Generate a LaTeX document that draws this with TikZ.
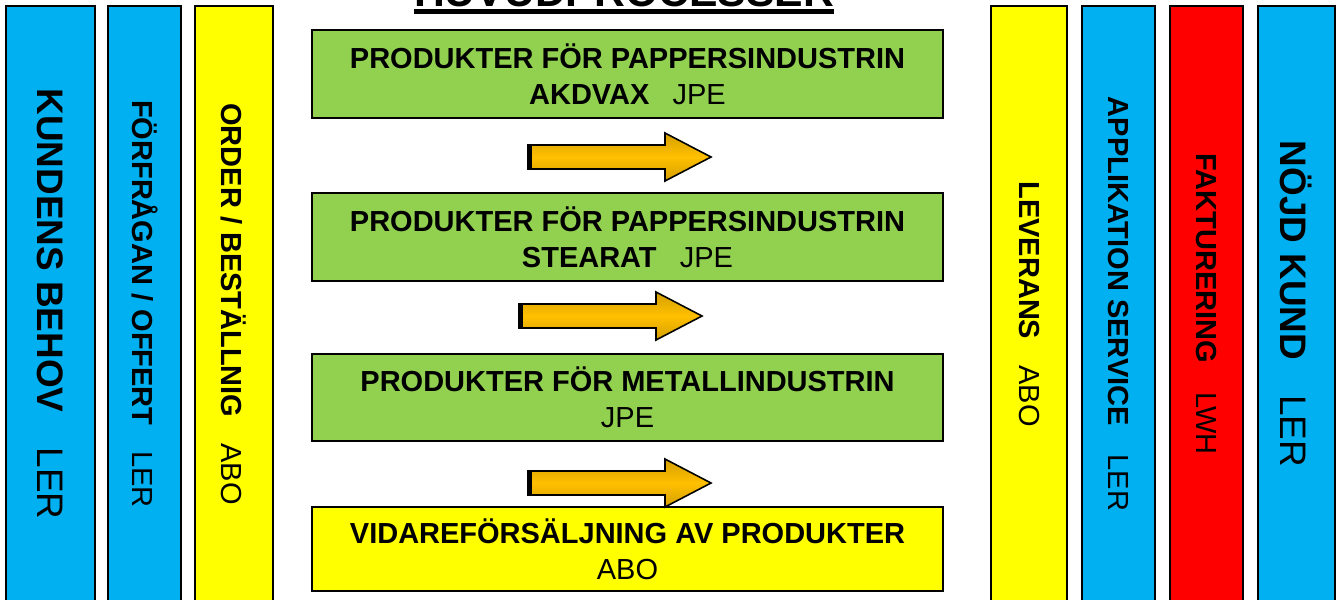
\documentclass[tikz,border=0pt]{standalone}
\usepackage{fontspec}
\setmainfont{Liberation Sans}
\usepackage{tikz}

\definecolor{stageblue}{HTML}{00B0F0}
\definecolor{stageyellow}{HTML}{FFFF00}
\definecolor{stagered}{HTML}{FF0000}
\definecolor{procgreen}{HTML}{92D050}
\definecolor{arrowgold}{HTML}{FFC000}
\definecolor{arrowdark}{HTML}{D49F00}

\tikzset{
  stagebar/.style={draw, line width=1.1pt, color=black, rotate=-90,
       minimum width=11.92cm, minimum height=#1, inner sep=0cm,
       font=\fontsize{16.5}{20}\selectfont},
  bigfont/.style={font=\fontsize{21}{25}\selectfont},
  procbox/.style={draw, line width=1.1pt, color=black, align=center,
       minimum width=12.62cm, minimum height=#1, inner sep=0cm,
       font=\fontsize{16.5}{20.5}\selectfont},
  blockarrow/.style={draw=black, line width=0.9pt, top color=arrowdark,
       bottom color=arrowdark, middle color=arrowgold}
}

\begin{document}
\begin{tikzpicture}[x=0.02cm, y=-0.02cm]

\useasboundingbox (0,0) rectangle (1337,599);
\clip (0,0) rectangle (1337,599);
\fill[white] (0,0) rectangle (1337,599);

\node (title) at (624, 6) [anchor=base, inner sep=0cm,
     font=\bfseries\fontsize{24.3}{28}\selectfont] {HUVUDPROCESSER};
\draw[line width=2.7pt] ([yshift=-3.3pt]title.base west)
     -- ([yshift=-3.3pt]title.base east);

\node (behov) at (50.5, 304) [stagebar=1.78cm, bigfont, fill=stageblue]
     {\textbf{KUNDENS BEHOV}\hspace{0.95em}LER};
\node (offert) at (144.5, 304) [stagebar=1.46cm, fill=stageblue]
     {\textbf{FÖRFRÅGAN / OFFERT}\hspace{0.9em}LER};
\node (order) at (234, 304) [stagebar=1.56cm, fill=stageyellow]
     {\textbf{ORDER / BESTÄLLNIG}\hspace{0.9em}ABO};

\node (akdvax) at (627.5, 74) [procbox=1.76cm, fill=procgreen]
     {\textbf{PRODUKTER FÖR PAPPERSINDUSTRIN}\\
      \textbf{AKDVAX}\hspace{0.8em}JPE};
\node (stearat) at (627.5, 237) [procbox=1.76cm, fill=procgreen]
     {\textbf{PRODUKTER FÖR PAPPERSINDUSTRIN}\\
      \textbf{STEARAT}\hspace{0.8em}JPE};
\node (metall) at (627.5, 397.5) [procbox=1.74cm, fill=procgreen]
     {\textbf{PRODUKTER FÖR METALLINDUSTRIN}\\JPE};
\node (vidare) at (627.5, 549) [procbox=1.68cm, fill=stageyellow]
     {\textbf{VIDAREFÖRSÄLJNING AV PRODUKTER}\\ABO};

\foreach \ax/\ay in {528/157, 519/316, 528/483} {
  \path[blockarrow] (\ax, \ay-12) -- (\ax+137, \ay-12) -- (\ax+137, \ay-24)
     -- (\ax+183, \ay) -- (\ax+137, \ay+24) -- (\ax+137, \ay+12)
     -- (\ax, \ay+12) -- cycle;
  \draw[line width=2.3pt] (\ax+1.5, \ay-12) -- (\ax+1.5, \ay+12);
}

\node (leverans) at (1029, 304) [stagebar=1.52cm, fill=stageyellow]
     {\textbf{LEVERANS}\hspace{0.9em}ABO};
\node (service) at (1118.5, 304) [stagebar=1.46cm, fill=stageblue]
     {\textbf{APPLIKATION SERVICE}\hspace{1em}LER};
\node (faktura) at (1206.5, 304) [stagebar=1.46cm, fill=stagered]
     {\textbf{FAKTURERING}\hspace{1em}LWH};
\node (nojd) at (1296.5, 304) [stagebar=1.54cm, bigfont, fill=stageblue]
     {\textbf{NÖJD KUND}\hspace{0.95em}LER};

\end{tikzpicture}
\end{document}
